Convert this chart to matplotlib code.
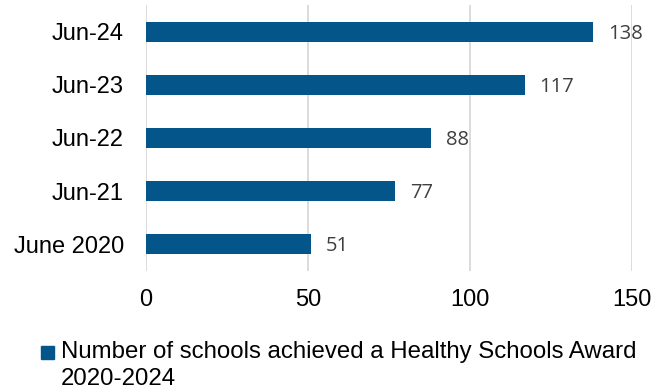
import matplotlib.pyplot as plt
from matplotlib.patches import Rectangle

plt.rcParams['font.family'] = ['Liberation Sans', 'DejaVu Sans']

labels = ['June 2020', 'Jun-21', 'Jun-22', 'Jun-23', 'Jun-24']
values = [51, 77, 88, 117, 138]
xticks = [0, 50, 100, 150]
series_name = 'Number of schools achieved a Healthy Schools Award\n2020-2024'

bar_color = '#03558A'

fig = plt.figure(figsize=(6.63, 3.89), dpi=100)
ax = fig.add_axes([0.2202, 0.3046, 0.733, 0.6813])

ypos = range(len(labels))
bars = ax.barh(ypos, values, height=0.36, color=bar_color, zorder=3)
for b, v in zip(bars, values):
    ax.text(b.get_width() + 4.5, b.get_y() + b.get_height() / 2 - 0.04, str(v),
            va='center', ha='left', fontsize=14.5, color='#404040',
            family=['Open Sans', 'DejaVu Sans'])

ax.set_xlim(0, 150)
ax.set_ylim(-0.5, len(labels) - 0.5)
ax.set_xticks(xticks)
ax.set_yticks(list(ypos))
ax.set_yticklabels(labels)
ax.tick_params(axis='both', length=0, labelsize=17, colors='#000000')
ax.tick_params(axis='y', pad=16)
ax.tick_params(axis='x', pad=13)
ax.grid(axis='x', color='#D9D9D9', linewidth=1.3, zorder=0)
for s in ax.spines.values():
    s.set_visible(False)

fig.patches.append(Rectangle((41 / 663, 1 - 359 / 389), 13 / 663, 13 / 389,
                             transform=fig.transFigure, color=bar_color))
fig.text(61 / 663, 1 - 341 / 389, series_name, ha='left', va='top',
         fontsize=17.3, linespacing=1.27)

fig.savefig('out.png', dpi=100)
